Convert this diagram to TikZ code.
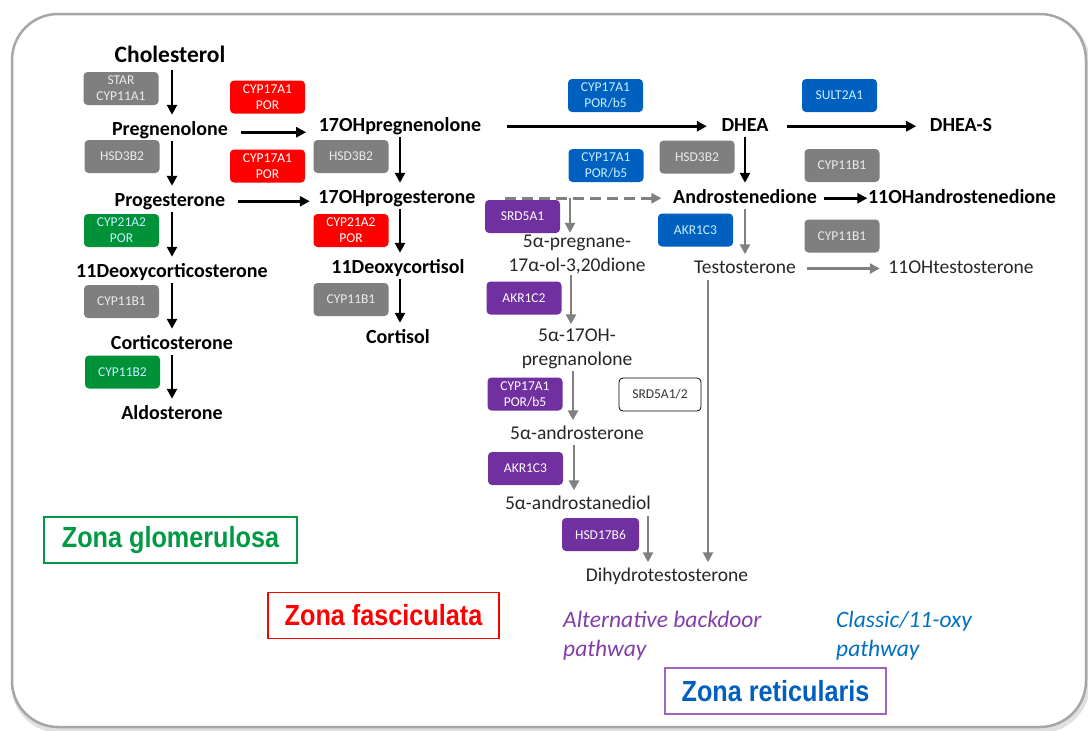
\documentclass[tikz,border=0pt]{standalone}
\usepackage{fontspec}
\setmainfont{Carlito}
\newfontfamily\zonefont{Liberation Sans}
\usetikzlibrary{arrows.meta}
\definecolor{encgray}{RGB}{127,127,127}
\definecolor{encgreen}{RGB}{0,146,56}
\definecolor{encred}{RGB}{255,0,0}
\definecolor{encblue}{RGB}{0,96,192}
\definecolor{encpurple}{RGB}{112,48,160}
\definecolor{arrgray}{RGB}{128,128,128}
\definecolor{zgreen}{RGB}{0,153,68}
\definecolor{zblue}{RGB}{0,96,192}
\definecolor{zpurple}{RGB}{160,100,190}
\definecolor{ipurple}{RGB}{128,64,168}
\definecolor{iblue}{RGB}{0,112,192}
\definecolor{lightcyan}{RGB}{200,240,255}
\tikzset{
  enz/.style={rounded corners=4pt, minimum width=75pt, minimum height=33pt, inner sep=1pt,
    align=center, font=\fontsize{13.5}{16}\selectfont},
  gbox/.style={enz, fill=encgray, text=black!8},
  grbox/.style={enz, fill=encgreen, text=lightcyan},
  rbox/.style={enz, fill=encred, text=white},
  bbox/.style={enz, fill=encblue, text=lightcyan},
  pbox/.style={enz, fill=encpurple, text=white},
  wbox/.style={enz, draw=black, line width=0.8pt, fill=white, text=black!80, minimum width=82pt},
  met/.style={font=\bfseries\fontsize{20}{23}\selectfont, inner sep=0.5pt, text height=13.5pt, text depth=4pt, anchor=base},
  alt/.style={font=\fontsize{19.5}{24}\selectfont, inner sep=0.5pt, text=black!85, align=center},
  altb/.style={alt, text height=13pt, text depth=4pt, anchor=base},
  blk/.style={-{Triangle[length=10pt,width=10pt]}, line width=2.8pt, draw=black},
  gry/.style={blk, draw=arrgray},
  zone/.style={font=\zonefont\bfseries\fontsize{26}{30}\selectfont, line width=1.5pt, minimum height=46pt, inner sep=2pt},
  ital/.style={font=\itshape\fontsize{23.5}{29}\selectfont, align=left, anchor=west, inner sep=0pt}
}
\begin{document}
\begin{tikzpicture}[x=1pt,y=-1pt]
\useasboundingbox (0,0) rectangle (1088,731);
% outer frame with shadow
\draw[line width=6pt, draw=black!12, rounded corners=46pt] (14,17) rectangle (1087,730);
\draw[line width=2.5pt, draw=black!35, rounded corners=46pt, fill=white] (12,14) rectangle (1086,727);

% metabolites (bold)
\node[met, font=\bfseries\fontsize{23.5}{27}\selectfont] (chol) at (170,62) {Cholesterol};
\node[met] (preg) at (170,135) {Pregnenolone};
\node[met] (prog) at (170,206) {Progesterone};
\node[met] (doc) at (172,277) {11Deoxycorticosterone};
\node[met] (cort) at (172,349) {Corticosterone};
\node[met] (aldo) at (172,419) {Aldosterone};
\node[met] (ohpreg) at (400,131) {17OHpregnenolone};
\node[met] (ohprog) at (397,203) {17OHprogesterone};
\node[met] (dcl) at (398,273) {11Deoxycortisol};
\node[met] (cortisol) at (398,343) {Cortisol};
\node[met] (dhea) at (745,131) {DHEA};
\node[met] (dheas) at (961,131) {DHEA-S};
\node[met] (andro) at (745,203) {Androstenedione};
\node[met] (ohandro) at (962,203) {11OHandrostenedione};
% metabolites (regular)
\node[altb] (testo) at (745,273) {Testosterone};
\node[altb] (ohtesto) at (961,273) {11OHtestosterone};
\node[alt] (pregnane) at (577,254) {5α-pregnane-\\17α-ol-3,20dione};
\node[alt] (pregnanolone) at (577,349) {5α-17OH-\\pregnanolone};
\node[altb] (androsterone) at (577,439) {5α-androsterone};
\node[altb] (andiol) at (578,509) {5α-androstanediol};
\node[altb] (dht) at (667,581) {Dihydrotestosterone};

% enzymes
\node[gbox] (e_star) at (121,88.5) {STAR\\CYP11A1};
\node[gbox] (e_hsd1) at (122,156.5) {HSD3B2};
\node[grbox] (e_cyp21a) at (121.5,230.5) {CYP21A2\\POR};
\node[gbox] (e_11b1a) at (121.5,301.5) {CYP11B1};
\node[grbox] (e_11b2) at (122.5,372) {CYP11B2};
\node[rbox] (e_17a) at (267.5,97) {CYP17A1\\POR};
\node[rbox] (e_17b) at (267.5,166) {CYP17A1\\POR};
\node[gbox] (e_hsd2) at (351,156.5) {HSD3B2};
\node[rbox] (e_cyp21b) at (351,230.5) {CYP21A2\\POR};
\node[gbox] (e_11b1b) at (351,299.5) {CYP11B1};
\node[bbox] (e_17c) at (605.5,95.5) {CYP17A1\\POR/b5};
\node[bbox] (e_17d) at (606,165.5) {CYP17A1\\POR/b5};
\node[pbox] (e_srd) at (522.5,216.5) {SRD5A1};
\node[pbox] (e_akr2) at (524,298) {AKR1C2};
\node[pbox] (e_17e) at (525,394) {CYP17A1\\POR/b5};
\node[wbox] (e_srd12) at (660,394.5) {SRD5A1/2};
\node[pbox] (e_akr3p) at (525.5,468.5) {AKR1C3};
\node[pbox, minimum width=77pt] (e_hsd17) at (600.5,534.5) {HSD17B6};
\node[gbox] (e_hsd3) at (697,157) {HSD3B2};
\node[bbox] (e_akr3b) at (695.5,230) {AKR1C3};
\node[bbox] (e_sult) at (839.5,95.5) {SULT2A1};
\node[gbox] (e_11b1c) at (842,165.5) {CYP11B1};
\node[gbox] (e_11b1d) at (842,236) {CYP11B1};

% black vertical arrows
\draw[blk, shorten <=3pt, shorten >=6pt] ([xshift=2pt]chol.south) -- ([xshift=2pt]chol.south |- preg.north);
\draw[blk, shorten <=1pt, shorten >=6pt] ([xshift=2pt]preg.south) -- ([xshift=2pt]preg.south |- prog.north);
\draw[blk, shorten <=1pt, shorten >=6pt] ([xshift=2pt]prog.south) -- ([xshift=2pt]prog.south |- doc.north);
\draw[blk, shorten <=1pt, shorten >=6pt] (doc.south) -- (doc.south |- cort.north);
\draw[blk, shorten <=1pt, shorten >=6pt] (cort.south) -- (cort.south |- aldo.north);
\draw[blk, shorten <=1pt, shorten >=6pt] (ohpreg.south) -- (ohpreg.south |- ohprog.north);
\draw[blk, shorten <=1pt, shorten >=6pt] ([xshift=3pt]ohprog.south) -- ([xshift=3pt]ohprog.south |- dcl.north);
\draw[blk, shorten <=1pt, shorten >=6pt] ([xshift=2pt]dcl.south) -- ([xshift=2pt]dcl.south |- cortisol.north);
\draw[blk, shorten <=1pt, shorten >=6pt] (dhea.south) -- (dhea.south |- andro.north);
% black horizontal arrows
\draw[blk, shorten <=12pt, shorten >=12pt] ([yshift=-2pt]preg.east) -- ([yshift=-2pt]preg.east -| ohpreg.west);
\draw[blk, shorten <=12pt, shorten >=8pt] (prog.east) -- (prog.east -| ohprog.west);
\draw[blk, shorten <=25pt, shorten >=14pt] (ohpreg.east) -- (ohpreg.east -| dhea.west);
\draw[blk, shorten <=18pt, shorten >=13pt] (dhea.east) -- (dhea.east -| dheas.west);
\draw[blk, shorten <=6pt, shorten >=0pt] (andro.east) -- (andro.east -| ohandro.west);
% grey arrows
\draw[gry, dashed, dash pattern=on 11pt off 6pt, shorten <=29pt, shorten >=11pt] (ohprog.east) -- (ohprog.east -| andro.west);
\draw[gry, shorten >=1pt] ([xshift=-7pt]pregnane.north |- ohprog.east) -- ([xshift=-7pt]pregnane.north);
\draw[gry, shorten <=1pt, shorten >=4pt] ([xshift=-6pt]pregnane.south) -- ([xshift=-6pt]pregnane.south |- pregnanolone.north);
\draw[gry, shorten <=1pt, shorten >=5pt] ([xshift=-4pt]pregnanolone.south) -- ([xshift=-4pt]pregnanolone.south |- androsterone.north);
\draw[gry, shorten <=1pt, shorten >=5pt] ([xshift=-3pt]androsterone.south) -- ([xshift=-3pt]androsterone.south |- andiol.north);
\draw[gry, shorten <=2pt, shorten >=5pt] ([xshift=70pt]andiol.south) -- ([xshift=70pt]andiol.south |- dht.north);
\draw[gry, shorten <=2pt, shorten >=5pt] ([xshift=-37pt]testo.south) -- ([xshift=-37pt]testo.south |- dht.north);
\draw[gry, shorten <=1pt, shorten >=5pt] (andro.south) -- (andro.south |- testo.north);
\draw[gry, shorten <=10pt, shorten >=8pt] (testo.east) -- (testo.east -| ohtesto.west);

% zone labels
\node[zone, draw=zgreen, text=zgreen, minimum width=253pt] (zg) at (170.5,540) {\scalebox{0.97}[1.12]{Zona glomerulosa}};
\node[zone, draw=encred, text=encred, minimum width=231pt] (zf) at (383.5,615.5) {\scalebox{0.97}[1.12]{Zona fasciculata}};
\node[zone, draw=zpurple, text=zblue, minimum width=221pt] (zr) at (775.5,691) {\scalebox{0.97}[1.12]{Zona reticularis}};
\node[ital, text=ipurple] (alt) at (563,635.5) {Alternative backdoor\\pathway};
\node[ital, text=iblue] (cls) at (836,635.5) {Classic/11-oxy\\pathway};
\end{tikzpicture}
\end{document}
